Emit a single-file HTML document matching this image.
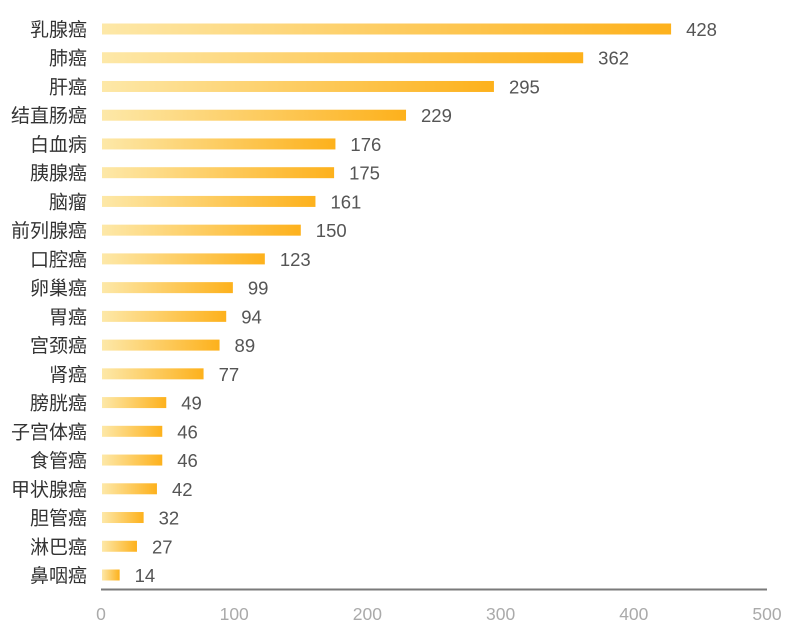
<!DOCTYPE html>
<html><head><meta charset="utf-8"><style>
body{margin:0;background:#fff;}
svg text{font-family:"Liberation Sans","Noto Sans CJK SC",sans-serif;}
</style></head><body>
<svg id="chart" width="801" height="630" xmlns="http://www.w3.org/2000/svg">
<defs><linearGradient id="g" x1="0" x2="1" y1="0" y2="0"><stop offset="0" stop-color="#fde8a8"/><stop offset="1" stop-color="#fdb11c"/></linearGradient></defs>
<g id="bars"></g>
<line x1="101" x2="767" y1="589.5" y2="589.5" stroke="#7a7a7a" stroke-width="2"/>
<g id="ticks"></g>
</svg>
<script>
const categories=["乳腺癌","肺癌","肝癌","结直肠癌","白血病","胰腺癌","脑瘤","前列腺癌","口腔癌","卵巢癌","胃癌","宫颈癌","肾癌","膀胱癌","子宫体癌","食管癌","甲状腺癌","胆管癌","淋巴癌","鼻咽癌"];
const values=[428,362,295,229,176,175,161,150,123,99,94,89,77,49,46,46,42,32,27,14];
const tickValues=[0,100,200,300,400,500];
const NS="http://www.w3.org/2000/svg";
const x=v=>101+v*(767-101)/500;
const y=i=>29+i*(575-29)/19;
const bars=document.getElementById('bars');
categories.forEach((c,i)=>{
  const r=document.createElementNS(NS,'rect');
  
  
  r.setAttribute('x',x(0)+1);r.setAttribute('y',y(i)-5.5);
  r.setAttribute('width',x(values[i])-x(0)-1);r.setAttribute('height',11);
  r.setAttribute('fill','url(#g)');bars.appendChild(r);
  const t=document.createElementNS(NS,'text');
  
  
  t.setAttribute('x',87);t.setAttribute('y',y(i)+7);t.setAttribute('text-anchor','end');
  t.setAttribute('font-size','19');t.setAttribute('fill','#333');t.textContent=c;bars.appendChild(t);
  const v=document.createElementNS(NS,'text');
  
  
  v.setAttribute('x',x(values[i])+15);v.setAttribute('y',y(i)+7);
  v.setAttribute('font-size','18.5');v.setAttribute('fill','#555');v.textContent=values[i];bars.appendChild(v);
});
const ticks=document.getElementById('ticks');
tickValues.forEach(tv=>{
  const t=document.createElementNS(NS,'text');
  
  
  t.setAttribute('x',x(tv));t.setAttribute('y',620);t.setAttribute('text-anchor','middle');
  t.setAttribute('font-size','17.5');t.setAttribute('fill','#aaa');t.textContent=tv;ticks.appendChild(t);
});
</script>
</body></html>
